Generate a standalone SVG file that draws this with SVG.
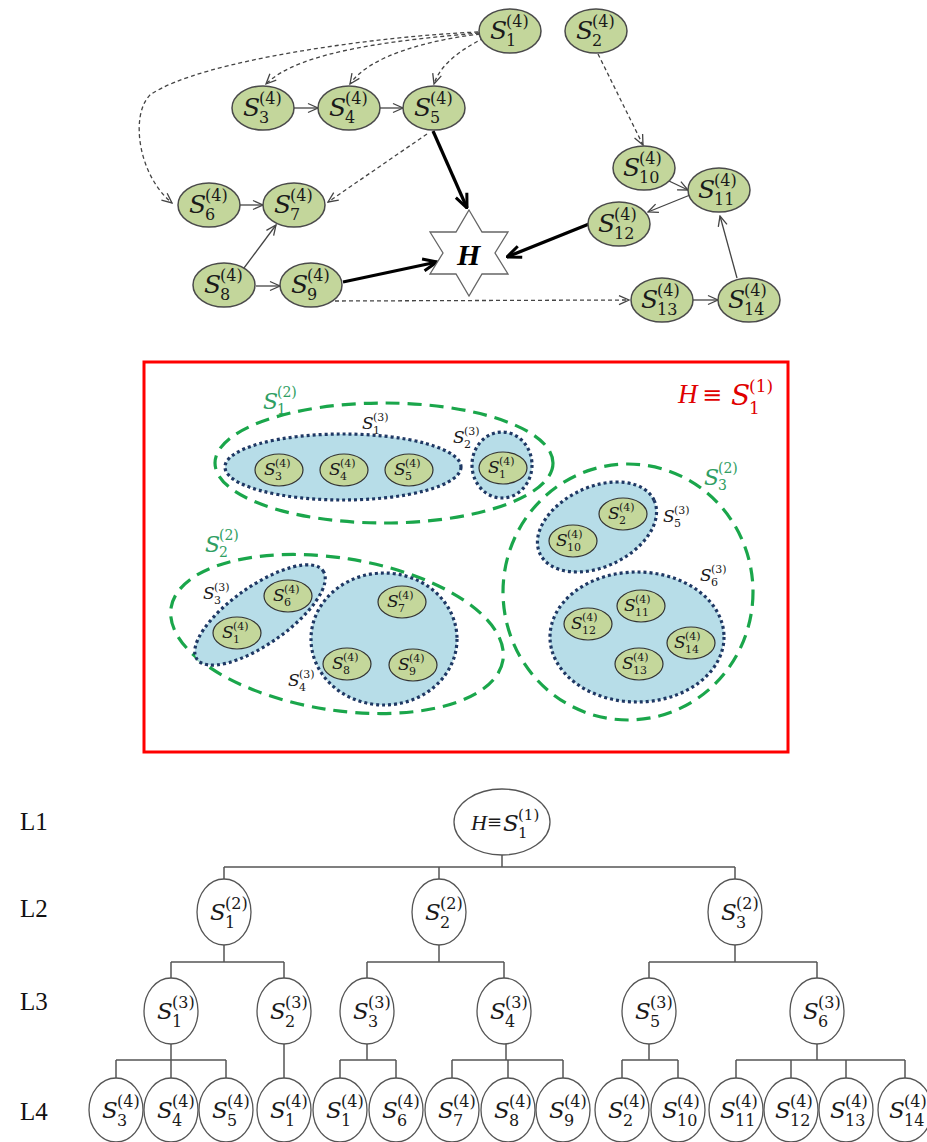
<svg xmlns="http://www.w3.org/2000/svg" width="927" height="1142" viewBox="0 0 927 1142">
<defs>
<marker id="ah" viewBox="0 0 12 12" refX="11" refY="6" markerWidth="12" markerHeight="12" markerUnits="userSpaceOnUse" orient="auto"><path d="M1,1.5 L11,6 L1,10.5" fill="none" stroke="#444" stroke-width="1.3" stroke-dasharray="none"/></marker>
<marker id="ahb" viewBox="0 0 16 16" refX="15" refY="8" markerWidth="16" markerHeight="16" markerUnits="userSpaceOnUse" orient="auto"><path d="M1,2 L15,8 L1,14" fill="none" stroke="#000" stroke-width="3"/></marker>
</defs>
<style>
.gn{fill:#c3d69b;stroke:#4a4a4a;stroke-width:1.5}
.mn{fill:#c4d79b;stroke:#333;stroke-width:1.2}
.bl{fill:#b7dde8;stroke:#1f3864;stroke-width:3.2;stroke-dasharray:3 3}
.gr{fill:none;stroke:#1aa64b;stroke-width:3.2;stroke-dasharray:14 8}
.tn{fill:#fff;stroke:#555;stroke-width:1.3}
.tl{fill:none;stroke:#555;stroke-width:1.5}
.thin{fill:none;stroke:#444;stroke-width:1.3;marker-end:url(#ah)}
.dash{fill:none;stroke:#444;stroke-width:1.3;stroke-dasharray:4 3;marker-end:url(#ah)}
.thick{fill:none;stroke:#000;stroke-width:3.2;marker-end:url(#ahb)}
.m{font-family:"DejaVu Serif",serif;fill:#1a1a1a}
.i{font-style:italic}
.a1{font-size:25px}.a2{font-size:16px}
.b1{font-size:17px}.b2{font-size:11px}
.c1{font-size:22px}.c2{font-size:14px}
.d1{font-size:23px}.d2{font-size:16px}
.grt{fill:#2f9e63}
.L{font-family:"Liberation Serif",serif;font-size:25px;fill:#111}
</style>

<g id="connectors">
<g id="graph-edges">
<path class="dash" d="M479,33 C400,40 300,50 266,84"/>
<path class="dash" d="M480,34 C430,40 370,55 350,84"/>
<path class="dash" d="M484,38 C460,50 440,65 434,84"/>
<path class="dash" d="M478,32 C380,36 200,60 150,95 C130,115 138,175 172,203"/>
<path class="dash" d="M427,134 L328,202"/>
<path class="dash" d="M335,301 L629,300"/>
<path class="dash" d="M598,54 L643,145"/>
<path class="thin" d="M294,108 L318,108"/>
<path class="thin" d="M380,108 L403,108"/>
<path class="thin" d="M240,205 L263,205"/>
<path class="thin" d="M241,272 L276,225"/>
<path class="thin" d="M256,286 L280,286"/>
<path class="thin" d="M669,181 L688,190"/>
<path class="thin" d="M690,195 L648,212"/>
<path class="thin" d="M737,278 L720,216"/>
<path class="thin" d="M693,300 L718,300"/>
<path class="thick" d="M433,131 L467,208"/>
<path class="thick" d="M343,282 L437,262"/>
<path class="thick" d="M589,224 L507,257"/>
</g>
<g id="tree-edges" class="tl">
<path d="M502,855 V867 M224,867 H735 M224,867 V879 M439,867 V879 M735,867 V879"/>
<path d="M224,945 V962 M171,962 H284 M171,962 V978 M284,962 V978"/>
<path d="M439,945 V962 M367,962 H504 M367,962 V978 M504,962 V978"/>
<path d="M735,945 V962 M649,962 H817 M649,962 V978 M817,962 V978"/>
<path d="M171,1044 V1060 M116,1060 H226 M116,1060 V1078 M171,1060 V1078 M226,1060 V1078"/>
<path d="M284,1044 V1078"/>
<path d="M367,1044 V1060 M340,1060 H396 M340,1060 V1078 M396,1060 V1078"/>
<path d="M506,1044 V1060 M452,1060 H563 M452,1060 V1078 M508,1060 V1078 M563,1060 V1078"/>
<path d="M649,1044 V1060 M622,1060 H678 M622,1060 V1078 M678,1060 V1078"/>
<path d="M817,1044 V1060 M736,1060 H905 M736,1060 V1078 M791,1060 V1078 M846,1060 V1078 M905,1060 V1078"/>
</g>
</g>

<g id="graph-nodes">
<g id="g1"><ellipse class="gn" cx="510" cy="31" rx="31" ry="22"/><text class="m"><tspan class="i a1" x="490" y="39">S</tspan><tspan class="a2" x="506" y="27">(4)</tspan><tspan class="a2" x="506" y="46">1</tspan></text></g>
<g id="g2"><ellipse class="gn" cx="596" cy="31" rx="31" ry="22"/><text class="m"><tspan class="i a1" x="576" y="39">S</tspan><tspan class="a2" x="592" y="27">(4)</tspan><tspan class="a2" x="592" y="46">2</tspan></text></g>
<g id="g3"><ellipse class="gn" cx="263" cy="108" rx="31" ry="22"/><text class="m"><tspan class="i a1" x="243" y="116">S</tspan><tspan class="a2" x="259" y="104">(4)</tspan><tspan class="a2" x="259" y="123">3</tspan></text></g>
<g id="g4"><ellipse class="gn" cx="349" cy="108" rx="31" ry="22"/><text class="m"><tspan class="i a1" x="329" y="116">S</tspan><tspan class="a2" x="345" y="104">(4)</tspan><tspan class="a2" x="345" y="123">4</tspan></text></g>
<g id="g5"><ellipse class="gn" cx="434" cy="108" rx="31" ry="22"/><text class="m"><tspan class="i a1" x="414" y="116">S</tspan><tspan class="a2" x="430" y="104">(4)</tspan><tspan class="a2" x="430" y="123">5</tspan></text></g>
<g id="g6"><ellipse class="gn" cx="209" cy="205" rx="31" ry="22"/><text class="m"><tspan class="i a1" x="189" y="213">S</tspan><tspan class="a2" x="205" y="201">(4)</tspan><tspan class="a2" x="205" y="220">6</tspan></text></g>
<g id="g7"><ellipse class="gn" cx="294" cy="205" rx="31" ry="22"/><text class="m"><tspan class="i a1" x="274" y="213">S</tspan><tspan class="a2" x="290" y="201">(4)</tspan><tspan class="a2" x="290" y="220">7</tspan></text></g>
<g id="g8"><ellipse class="gn" cx="224" cy="285" rx="31" ry="22"/><text class="m"><tspan class="i a1" x="204" y="293">S</tspan><tspan class="a2" x="220" y="281">(4)</tspan><tspan class="a2" x="220" y="300">8</tspan></text></g>
<g id="g9"><ellipse class="gn" cx="311" cy="285" rx="31" ry="22"/><text class="m"><tspan class="i a1" x="291" y="293">S</tspan><tspan class="a2" x="307" y="281">(4)</tspan><tspan class="a2" x="307" y="300">9</tspan></text></g>
<g id="g10"><ellipse class="gn" cx="644" cy="168" rx="31" ry="22"/><text class="m"><tspan class="i a1" x="623" y="176">S</tspan><tspan class="a2" x="639" y="164">(4)</tspan><tspan class="a2" x="639" y="183">10</tspan></text></g>
<g id="g11"><ellipse class="gn" cx="719" cy="190" rx="31" ry="22"/><text class="m"><tspan class="i a1" x="698" y="198">S</tspan><tspan class="a2" x="714" y="186">(4)</tspan><tspan class="a2" x="714" y="205">11</tspan></text></g>
<g id="g12"><ellipse class="gn" cx="619" cy="224" rx="31" ry="22"/><text class="m"><tspan class="i a1" x="598" y="232">S</tspan><tspan class="a2" x="614" y="220">(4)</tspan><tspan class="a2" x="614" y="239">12</tspan></text></g>
<g id="g13"><ellipse class="gn" cx="662" cy="300" rx="31" ry="22"/><text class="m"><tspan class="i a1" x="641" y="308">S</tspan><tspan class="a2" x="657" y="296">(4)</tspan><tspan class="a2" x="657" y="315">13</tspan></text></g>
<g id="g14"><ellipse class="gn" cx="749" cy="300" rx="31" ry="22"/><text class="m"><tspan class="i a1" x="728" y="308">S</tspan><tspan class="a2" x="744" y="296">(4)</tspan><tspan class="a2" x="744" y="315">14</tspan></text></g>
<g id="gH"><polygon points="469,210 482,232 508,232 495,253 508,274 482,274 469,296 456,274 430,274 443,253 430,232 456,232" fill="#fff" stroke="#666" stroke-width="1.3"/><text x="457" y="265" font-family="Liberation Serif" font-size="30" font-weight="bold" font-style="italic" fill="#000">H</text></g>
</g>

<g id="partition">
<rect x="144" y="362" width="644" height="390" fill="none" stroke="#ff0000" stroke-width="3"/>
<text class="m" style="fill:#e00000"><tspan x="678" y="403" font-family="Liberation Serif" font-style="italic" font-size="27">H</tspan><tspan x="702" y="403" font-size="24">≡</tspan><tspan class="i" x="731" y="405" font-size="28">S</tspan><tspan x="749" y="392" font-size="17">(1)</tspan><tspan x="749" y="414" font-size="17">1</tspan></text>

<g id="S1-2"><ellipse class="gr" cx="384" cy="463" rx="169" ry="60"/><text class="m grt"><tspan class="i c1" x="263" y="409">S</tspan><tspan class="c2" x="277" y="397">(2)</tspan><tspan class="c2" x="277" y="414">1</tspan></text></g>
<g id="S2-2"><ellipse class="gr" cx="337" cy="634" rx="168" ry="76" transform="rotate(9 337 634)"/><text class="m grt"><tspan class="i c1" x="205" y="552">S</tspan><tspan class="c2" x="219" y="540">(2)</tspan><tspan class="c2" x="219" y="557">2</tspan></text></g>
<g id="S3-2"><ellipse class="gr" cx="628" cy="592" rx="125" ry="128"/><text class="m grt"><tspan class="i c1" x="704" y="485">S</tspan><tspan class="c2" x="718" y="473">(2)</tspan><tspan class="c2" x="718" y="490">3</tspan></text></g>

<g id="S1-3"><ellipse class="bl" cx="343" cy="467" rx="118" ry="33"/><text class="m"><tspan class="i b1" x="362" y="429">S</tspan><tspan class="b2" x="373" y="421">(3)</tspan><tspan class="b2" x="373" y="434">1</tspan></text></g>
<g id="S2-3"><ellipse class="bl" cx="502" cy="465" rx="30" ry="33"/><text class="m"><tspan class="i b1" x="453" y="443">S</tspan><tspan class="b2" x="464" y="435">(3)</tspan><tspan class="b2" x="464" y="448">2</tspan></text></g>
<g id="S3-3"><ellipse class="bl" cx="260" cy="615" rx="77" ry="29" transform="rotate(-35 260 615)"/><text class="m"><tspan class="i b1" x="203" y="599">S</tspan><tspan class="b2" x="214" y="591">(3)</tspan><tspan class="b2" x="214" y="604">3</tspan></text></g>
<g id="S4-3"><ellipse class="bl" cx="384" cy="639" rx="73" ry="66"/><text class="m"><tspan class="i b1" x="288" y="686">S</tspan><tspan class="b2" x="299" y="678">(3)</tspan><tspan class="b2" x="299" y="691">4</tspan></text></g>
<g id="S5-3"><ellipse class="bl" cx="597" cy="527" rx="63" ry="40" transform="rotate(-25 597 527)"/><text class="m"><tspan class="i b1" x="663" y="522">S</tspan><tspan class="b2" x="674" y="514">(3)</tspan><tspan class="b2" x="674" y="527">5</tspan></text></g>
<g id="S6-3"><ellipse class="bl" cx="637" cy="637" rx="87" ry="65"/><text class="m"><tspan class="i b1" x="700" y="581">S</tspan><tspan class="b2" x="711" y="573">(3)</tspan><tspan class="b2" x="711" y="586">6</tspan></text></g>

<g id="p3"><ellipse class="mn" cx="279" cy="470" rx="24" ry="16"/><text class="m"><tspan class="i b1" x="264" y="475">S</tspan><tspan class="b2" x="275" y="467">(4)</tspan><tspan class="b2" x="275" y="480">3</tspan></text></g>
<g id="p4"><ellipse class="mn" cx="344" cy="470" rx="24" ry="16"/><text class="m"><tspan class="i b1" x="329" y="475">S</tspan><tspan class="b2" x="340" y="467">(4)</tspan><tspan class="b2" x="340" y="480">4</tspan></text></g>
<g id="p5"><ellipse class="mn" cx="409" cy="470" rx="24" ry="16"/><text class="m"><tspan class="i b1" x="394" y="475">S</tspan><tspan class="b2" x="405" y="467">(4)</tspan><tspan class="b2" x="405" y="480">5</tspan></text></g>
<g id="p1a"><ellipse class="mn" cx="503" cy="468" rx="24" ry="16"/><text class="m"><tspan class="i b1" x="488" y="473">S</tspan><tspan class="b2" x="499" y="465">(4)</tspan><tspan class="b2" x="499" y="478">1</tspan></text></g>
<g id="p2"><ellipse class="mn" cx="623" cy="514" rx="24" ry="16"/><text class="m"><tspan class="i b1" x="608" y="519">S</tspan><tspan class="b2" x="619" y="511">(4)</tspan><tspan class="b2" x="619" y="524">2</tspan></text></g>
<g id="p10"><ellipse class="mn" cx="573" cy="541" rx="24" ry="16"/><text class="m"><tspan class="i b1" x="556" y="546">S</tspan><tspan class="b2" x="567" y="538">(4)</tspan><tspan class="b2" x="567" y="551">10</tspan></text></g>
<g id="p12"><ellipse class="mn" cx="588" cy="624" rx="24" ry="16"/><text class="m"><tspan class="i b1" x="571" y="629">S</tspan><tspan class="b2" x="582" y="621">(4)</tspan><tspan class="b2" x="582" y="634">12</tspan></text></g>
<g id="p11"><ellipse class="mn" cx="641" cy="606" rx="24" ry="16"/><text class="m"><tspan class="i b1" x="624" y="611">S</tspan><tspan class="b2" x="635" y="603">(4)</tspan><tspan class="b2" x="635" y="616">11</tspan></text></g>
<g id="p14"><ellipse class="mn" cx="691" cy="643" rx="24" ry="16"/><text class="m"><tspan class="i b1" x="674" y="648">S</tspan><tspan class="b2" x="685" y="640">(4)</tspan><tspan class="b2" x="685" y="653">14</tspan></text></g>
<g id="p13"><ellipse class="mn" cx="639" cy="664" rx="24" ry="16"/><text class="m"><tspan class="i b1" x="622" y="669">S</tspan><tspan class="b2" x="633" y="661">(4)</tspan><tspan class="b2" x="633" y="674">13</tspan></text></g>
<g id="p6"><ellipse class="mn" cx="288" cy="596" rx="24" ry="16"/><text class="m"><tspan class="i b1" x="273" y="601">S</tspan><tspan class="b2" x="284" y="593">(4)</tspan><tspan class="b2" x="284" y="606">6</tspan></text></g>
<g id="p1b"><ellipse class="mn" cx="237" cy="633" rx="24" ry="16"/><text class="m"><tspan class="i b1" x="222" y="638">S</tspan><tspan class="b2" x="233" y="630">(4)</tspan><tspan class="b2" x="233" y="643">1</tspan></text></g>
<g id="p7"><ellipse class="mn" cx="402" cy="602" rx="24" ry="16"/><text class="m"><tspan class="i b1" x="387" y="607">S</tspan><tspan class="b2" x="398" y="599">(4)</tspan><tspan class="b2" x="398" y="612">7</tspan></text></g>
<g id="p8"><ellipse class="mn" cx="347" cy="664" rx="24" ry="16"/><text class="m"><tspan class="i b1" x="332" y="669">S</tspan><tspan class="b2" x="343" y="661">(4)</tspan><tspan class="b2" x="343" y="674">8</tspan></text></g>
<g id="p9"><ellipse class="mn" cx="413" cy="665" rx="24" ry="16"/><text class="m"><tspan class="i b1" x="398" y="670">S</tspan><tspan class="b2" x="409" y="662">(4)</tspan><tspan class="b2" x="409" y="675">9</tspan></text></g>
</g>

<g id="levels">
<text class="L" x="20" y="830">L1</text>
<text class="L" x="20" y="917">L2</text>
<text class="L" x="20" y="1010">L3</text>
<text class="L" x="20" y="1120">L4</text>
</g>

<g id="tree-nodes">
<g id="t-root"><ellipse class="tn" cx="502" cy="822" rx="48" ry="33"/><text class="m"><tspan x="471" y="830" font-family="Liberation Serif" font-style="italic" font-size="22">H</tspan><tspan x="487" y="828" font-size="18">≡</tspan><tspan class="i d1" x="503" y="831">S</tspan><tspan x="518" y="820" font-size="15">(1)</tspan><tspan x="518" y="838" font-size="15">1</tspan></text></g>
<g id="t2-1"><ellipse class="tn" cx="224" cy="912" rx="27" ry="33"/><text class="m"><tspan class="i d1" x="210" y="920">S</tspan><tspan class="d2" x="225" y="909">(2)</tspan><tspan class="d2" x="225" y="928">1</tspan></text></g>
<g id="t2-2"><ellipse class="tn" cx="439" cy="912" rx="27" ry="33"/><text class="m"><tspan class="i d1" x="425" y="920">S</tspan><tspan class="d2" x="440" y="909">(2)</tspan><tspan class="d2" x="440" y="928">2</tspan></text></g>
<g id="t2-3"><ellipse class="tn" cx="735" cy="912" rx="27" ry="33"/><text class="m"><tspan class="i d1" x="721" y="920">S</tspan><tspan class="d2" x="736" y="909">(2)</tspan><tspan class="d2" x="736" y="928">3</tspan></text></g>
<g id="t3-1"><ellipse class="tn" cx="171" cy="1011" rx="27" ry="33"/><text class="m"><tspan class="i d1" x="157" y="1019">S</tspan><tspan class="d2" x="172" y="1008">(3)</tspan><tspan class="d2" x="172" y="1027">1</tspan></text></g>
<g id="t3-2"><ellipse class="tn" cx="284" cy="1011" rx="27" ry="33"/><text class="m"><tspan class="i d1" x="270" y="1019">S</tspan><tspan class="d2" x="285" y="1008">(3)</tspan><tspan class="d2" x="285" y="1027">2</tspan></text></g>
<g id="t3-3"><ellipse class="tn" cx="367" cy="1011" rx="27" ry="33"/><text class="m"><tspan class="i d1" x="353" y="1019">S</tspan><tspan class="d2" x="368" y="1008">(3)</tspan><tspan class="d2" x="368" y="1027">3</tspan></text></g>
<g id="t3-4"><ellipse class="tn" cx="504" cy="1011" rx="27" ry="33"/><text class="m"><tspan class="i d1" x="490" y="1019">S</tspan><tspan class="d2" x="505" y="1008">(3)</tspan><tspan class="d2" x="505" y="1027">4</tspan></text></g>
<g id="t3-5"><ellipse class="tn" cx="649" cy="1011" rx="27" ry="33"/><text class="m"><tspan class="i d1" x="635" y="1019">S</tspan><tspan class="d2" x="650" y="1008">(3)</tspan><tspan class="d2" x="650" y="1027">5</tspan></text></g>
<g id="t3-6"><ellipse class="tn" cx="817" cy="1011" rx="27" ry="33"/><text class="m"><tspan class="i d1" x="803" y="1019">S</tspan><tspan class="d2" x="818" y="1008">(3)</tspan><tspan class="d2" x="818" y="1027">6</tspan></text></g>
<g id="t4-3"><ellipse class="tn" cx="116" cy="1110" rx="27" ry="32"/><text class="m"><tspan class="i d1" x="102" y="1118">S</tspan><tspan class="d2" x="117" y="1107">(4)</tspan><tspan class="d2" x="117" y="1126">3</tspan></text></g>
<g id="t4-4"><ellipse class="tn" cx="171" cy="1110" rx="27" ry="32"/><text class="m"><tspan class="i d1" x="157" y="1118">S</tspan><tspan class="d2" x="172" y="1107">(4)</tspan><tspan class="d2" x="172" y="1126">4</tspan></text></g>
<g id="t4-5"><ellipse class="tn" cx="226" cy="1110" rx="27" ry="32"/><text class="m"><tspan class="i d1" x="212" y="1118">S</tspan><tspan class="d2" x="227" y="1107">(4)</tspan><tspan class="d2" x="227" y="1126">5</tspan></text></g>
<g id="t4-1a"><ellipse class="tn" cx="284" cy="1110" rx="27" ry="32"/><text class="m"><tspan class="i d1" x="270" y="1118">S</tspan><tspan class="d2" x="285" y="1107">(4)</tspan><tspan class="d2" x="285" y="1126">1</tspan></text></g>
<g id="t4-1b"><ellipse class="tn" cx="340" cy="1110" rx="27" ry="32"/><text class="m"><tspan class="i d1" x="326" y="1118">S</tspan><tspan class="d2" x="341" y="1107">(4)</tspan><tspan class="d2" x="341" y="1126">1</tspan></text></g>
<g id="t4-6"><ellipse class="tn" cx="396" cy="1110" rx="27" ry="32"/><text class="m"><tspan class="i d1" x="382" y="1118">S</tspan><tspan class="d2" x="397" y="1107">(4)</tspan><tspan class="d2" x="397" y="1126">6</tspan></text></g>
<g id="t4-7"><ellipse class="tn" cx="452" cy="1110" rx="27" ry="32"/><text class="m"><tspan class="i d1" x="438" y="1118">S</tspan><tspan class="d2" x="453" y="1107">(4)</tspan><tspan class="d2" x="453" y="1126">7</tspan></text></g>
<g id="t4-8"><ellipse class="tn" cx="508" cy="1110" rx="27" ry="32"/><text class="m"><tspan class="i d1" x="494" y="1118">S</tspan><tspan class="d2" x="509" y="1107">(4)</tspan><tspan class="d2" x="509" y="1126">8</tspan></text></g>
<g id="t4-9"><ellipse class="tn" cx="563" cy="1110" rx="27" ry="32"/><text class="m"><tspan class="i d1" x="549" y="1118">S</tspan><tspan class="d2" x="564" y="1107">(4)</tspan><tspan class="d2" x="564" y="1126">9</tspan></text></g>
<g id="t4-2"><ellipse class="tn" cx="622" cy="1110" rx="27" ry="32"/><text class="m"><tspan class="i d1" x="608" y="1118">S</tspan><tspan class="d2" x="623" y="1107">(4)</tspan><tspan class="d2" x="623" y="1126">2</tspan></text></g>
<g id="t4-10"><ellipse class="tn" cx="678" cy="1110" rx="27" ry="32"/><text class="m"><tspan class="i d1" x="662" y="1118">S</tspan><tspan class="d2" x="677" y="1107">(4)</tspan><tspan class="d2" x="677" y="1126">10</tspan></text></g>
<g id="t4-11"><ellipse class="tn" cx="736" cy="1110" rx="27" ry="32"/><text class="m"><tspan class="i d1" x="720" y="1118">S</tspan><tspan class="d2" x="735" y="1107">(4)</tspan><tspan class="d2" x="735" y="1126">11</tspan></text></g>
<g id="t4-12"><ellipse class="tn" cx="791" cy="1110" rx="27" ry="32"/><text class="m"><tspan class="i d1" x="775" y="1118">S</tspan><tspan class="d2" x="790" y="1107">(4)</tspan><tspan class="d2" x="790" y="1126">12</tspan></text></g>
<g id="t4-13"><ellipse class="tn" cx="846" cy="1110" rx="27" ry="32"/><text class="m"><tspan class="i d1" x="830" y="1118">S</tspan><tspan class="d2" x="845" y="1107">(4)</tspan><tspan class="d2" x="845" y="1126">13</tspan></text></g>
<g id="t4-14"><ellipse class="tn" cx="905" cy="1110" rx="27" ry="32"/><text class="m"><tspan class="i d1" x="889" y="1118">S</tspan><tspan class="d2" x="904" y="1107">(4)</tspan><tspan class="d2" x="904" y="1126">14</tspan></text></g>
</g>
</svg>
